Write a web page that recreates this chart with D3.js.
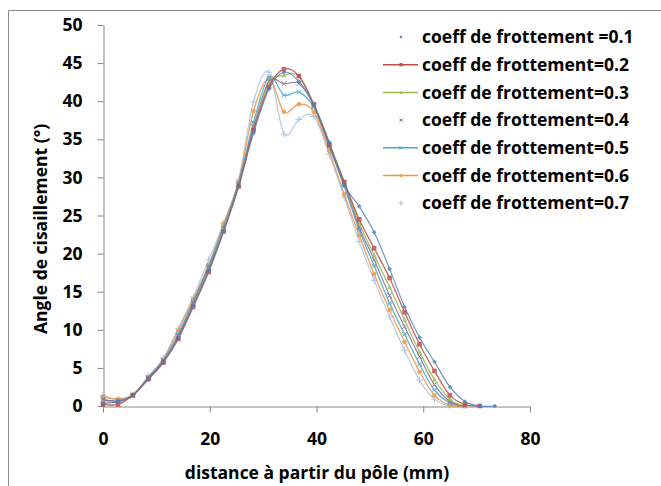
<!DOCTYPE html>
<html>
<head>
<meta charset="utf-8">
<script src="https://cdn.jsdelivr.net/npm/d3@7"></script>
<style>
  html, body { margin: 0; padding: 0; background: #fff; }
  svg { display: block; }
  text { font-family: "Open Sans", Lato, sans-serif; font-weight: bold; fill: #000; }
</style>
</head>
<body>
<svg id="chart" width="661" height="486"></svg>
<script>
// ---- data ----
const xPositions = [0, 2.8, 5.6, 8.5, 11.3, 14.1, 16.9, 19.8, 22.6, 25.4, 28.2, 31.1, 33.9, 36.7,
  39.5, 42.4, 45.2, 48.0, 50.8, 53.7, 56.5, 59.3, 62.1, 65.0, 67.8, 70.6, 73.4];

const seriesNames = ["coeff de frottement =0.1", "coeff de frottement=0.2", "coeff de frottement=0.3",
  "coeff de frottement=0.4", "coeff de frottement=0.5", "coeff de frottement=0.6", "coeff de frottement=0.7"];

const coeff01 = [0.3, 0.6, 1.4, 3.6, 5.8, 9.0, 13.2, 17.8, 23.0, 28.8, 35.8, 41.6, 43.8, 42.6, 39.6, 34.6, 29.0, 26.2, 22.8, 18.0, 13.0, 9.0, 5.8, 2.5, 0.6, 0, 0];
const coeff02 = [0.2, 0.2, 1.4, 3.5, 5.7, 8.8, 13.0, 17.6, 22.9, 28.8, 36.2, 41.9, 44.2, 43.3, 39.6, 34.3, 29.4, 24.5, 20.7, 16.8, 12.3, 8.1, 4.6, 1.4, 0.2, 0];
const coeff03 = [0.6, 0.5, 1.4, 3.6, 5.8, 9.0, 13.3, 17.9, 23.2, 29.0, 36.3, 42.3, 43.4, 43.3, 39.5, 34.5, 29.4, 24.0, 19.8, 15.6, 11.3, 7.1, 3.5, 0.9, 0];
const coeff04 = [0.8, 0.7, 1.4, 3.7, 5.9, 9.2, 13.5, 18.1, 23.3, 29.1, 36.6, 42.6, 42.3, 42.3, 39.4, 34.2, 29.2, 23.5, 19.2, 14.5, 10.4, 6.5, 2.8, 0.6, 0];
const coeff05 = [0.9, 0.6, 1.4, 3.7, 6.0, 9.4, 13.7, 18.4, 23.5, 29.2, 37.2, 43.2, 40.8, 41.2, 39.2, 34.0, 28.8, 23.1, 18.4, 13.5, 9.4, 5.5, 2.1, 0.4, 0];
const coeff06 = [1.2, 0.9, 1.5, 3.8, 6.1, 9.9, 14.0, 18.5, 23.9, 29.4, 38.7, 43.0, 38.6, 39.6, 38.6, 33.4, 27.8, 22.4, 17.3, 12.6, 8.4, 4.5, 1.4, 0.1, 0];
const coeff07 = [1.4, 0.9, 1.5, 3.9, 6.3, 10.2, 14.3, 19.2, 24.0, 29.7, 39.9, 43.8, 35.7, 37.6, 38.0, 33.0, 27.4, 21.6, 16.5, 11.7, 7.3, 3.4, 0.9, 0, 0];

const xTicks = [0, 20, 40, 60, 80];
const yTicks = [0, 5, 10, 15, 20, 25, 30, 35, 40, 45, 50];
const xTitle = "distance à partir du pôle (mm)";
const yTitle = "Angle de cisaillement (°)";

// ---- styles ----
const seriesValues = [coeff01, coeff02, coeff03, coeff04, coeff05, coeff06, coeff07];
const colors = ["#4A7EBB", "#BE4B48", "#98B954", "#7D60A0", "#46AAC5", "#F69240", "#A3BDE0"];
const markerTypes = ["diamond", "square", "triangle", "x", "star", "circle", "plus"];
const legendLine = [false, true, true, false, true, true, false];
const FS = "17.5px";

const svg = d3.select("#chart");

// outer frame
svg.append("rect").attr("x", 8.5).attr("y", 10.5).attr("width", 660).attr("height", 480)
  .attr("fill", "none").attr("stroke", "#8c8c8c").attr("stroke-width", 1);

const x = d3.scaleLinear().domain([0, 80]).range([103, 530]);
const y = d3.scaleLinear().domain([0, 50]).range([406, 25]);

// axes
const yAxis = svg.append("g").attr("transform", "translate(103.5,0)")
  .call(d3.axisLeft(y).tickValues(yTicks).tickSize(6).tickSizeOuter(0).tickPadding(15));
const xAxis = svg.append("g").attr("transform", "translate(0,406.5)")
  .call(d3.axisBottom(x).tickValues(xTicks).tickSize(6).tickSizeOuter(0).tickPadding(20));
[xAxis, yAxis].forEach(g => {
  g.selectAll("path, line").attr("stroke", "#868686");
  g.selectAll("text").style("font-size", FS).style("font-family", "'Open Sans', sans-serif").style("font-weight", "bold").attr("fill", "#000");
});

// titles
svg.append("text").attr("x", 317).attr("y", 479).attr("text-anchor", "middle")
  .style("font-size", FS).text(xTitle);
svg.append("text").attr("transform", "translate(47,229) rotate(-90)").attr("text-anchor", "middle")
  .style("font-size", FS).text(yTitle);

// marker drawing
function drawMarker(g, type, cx, cy, color, s) {
  s = s || 2.6;
  if (type === "diamond") {
    g.append("path").attr("d", `M${cx},${cy - s}L${cx + s},${cy}L${cx},${cy + s}L${cx - s},${cy}Z`).attr("fill", color);
  } else if (type === "square") {
    g.append("rect").attr("x", cx - s).attr("y", cy - s).attr("width", 2 * s).attr("height", 2 * s).attr("fill", color);
  } else if (type === "triangle") {
    g.append("path").attr("d", `M${cx},${cy - s}L${cx + s},${cy + s * 0.8}L${cx - s},${cy + s * 0.8}Z`).attr("fill", color);
  } else if (type === "x") {
    g.append("path").attr("d", `M${cx - s},${cy - s}L${cx + s},${cy + s}M${cx - s},${cy + s}L${cx + s},${cy - s}`).attr("stroke", color).attr("stroke-width", 1);
  } else if (type === "star") {
    g.append("path").attr("d", `M${cx - s},${cy - s}L${cx + s},${cy + s}M${cx - s},${cy + s}L${cx + s},${cy - s}M${cx - s},${cy}L${cx + s},${cy}`).attr("stroke", color).attr("stroke-width", 1);
  } else if (type === "circle") {
    g.append("circle").attr("cx", cx).attr("cy", cy).attr("r", s).attr("fill", color);
  } else if (type === "plus") {
    g.append("path").attr("d", `M${cx - s - 1},${cy}L${cx + s + 1},${cy}M${cx},${cy - s - 1}L${cx},${cy + s + 1}`).attr("stroke", color).attr("stroke-width", 1);
  }
}

const line = d3.line().x(d => x(d[0])).y(d => y(d[1])).curve(d3.curveCatmullRom.alpha(0));
const plot = svg.append("g");

// draw series from last to first so the low-coefficient curves are on top
for (let k = seriesValues.length - 1; k >= 0; k--) {
  const pts = seriesValues[k].map((v, i) => [xPositions[i], v]);
  const g = plot.append("g").attr("opacity", 0.85);
  g.append("path").datum(pts).attr("d", line).attr("fill", "none")
    .attr("stroke", colors[k]).attr("stroke-width", legendLine[k] ? 1.3 : 1.1);
  pts.forEach(p => drawMarker(g, markerTypes[k], x(p[0]), y(p[1]), colors[k], 2.3));
}

// legend
const legend = svg.append("g");
seriesNames.forEach((name, k) => {
  const ly = 37 + k * 27.7;
  if (legendLine[k]) {
    legend.append("line").attr("x1", 383).attr("x2", 418).attr("y1", ly).attr("y2", ly)
      .attr("stroke", colors[k]).attr("stroke-width", 1.5);
  }
  drawMarker(legend, markerTypes[k], 401, ly, colors[k], 1.6);
  legend.append("text").attr("x", 422).attr("y", ly).attr("dy", "0.35em")
    .style("font-size", FS).text(name);
});
</script>
</body>
</html>
